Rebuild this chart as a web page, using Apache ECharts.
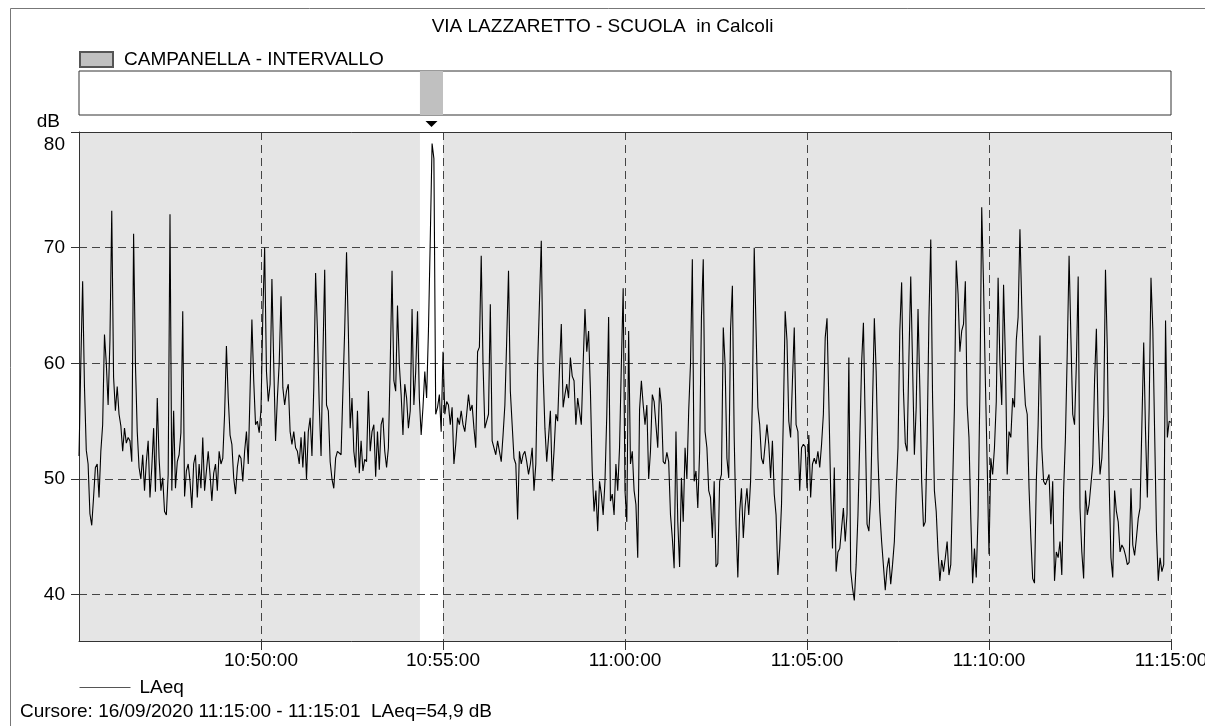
<!DOCTYPE html>
<html>
<head>
<meta charset="utf-8">
<script src="https://cdn.jsdelivr.net/npm/echarts@6/dist/echarts.min.js"></script>
<style>
html,body{margin:0;padding:0;background:#fff;}
#chart{width:1205px;height:726px;}
</style>
</head>
<body>
<div id="chart"></div>
<script>
// ---- texts ----
const chartTitle = 'VIA LAZZARETTO - SCUOLA  in Calcoli';
const cursorText = 'Cursore: 16/09/2020 11:15:00 - 11:15:01  LAeq=54,9 dB';
const seriesName = 'LAeq';
const bellName = 'CAMPANELLA - INTERVALLO';
const yUnit = 'dB';

// ---- time axis ----
const startTime = '10:45:00';
const endTime = '11:15:00';
const stepSeconds = 3;
const xTickSeconds = 300;
const yMin = 36;
const yMax = 80;
const yTicks = [40, 50, 60, 70, 80];

// ---- bell interval ----
const bellStart = '10:54:22';
const bellEnd = '10:55:00';

// ---- LAeq values (dB), one every 3 s, per 5-minute block ----
const laeq_1045 = [52,60,67.1,58,52.5,51.3,47,46,48.4,51,51.3,48.4,52.4,54.7,62.5,60,56.4,62,73.2,58.8,
55.9,58,55.6,54.6,52.4,54.4,53.1,53.6,53.3,51.5,71.2,60,54.1,51,50,52.1,49,51.5,53.3,48.4,
51,54.4,48.9,57,51.8,49,50.1,47.2,46.9,50.4,72.9,49,55.9,49.2,51.5,52.1,54,64.5,48.5,50.7,
51.3,49.8,47.5,51.3,52.1,48.4,51.3,49.2,53.6,49,49,52.4,50.4,48.1,50.5,51.3,49,52.4,51.3,51.8,
55.6,61.5,57,53.8,53,50.1,48.7,51,52.1,51.8,49.8,52.4,54.1,51.3,57.6,63.8,58.5,54.7,55,54];
const laeq_1050 = [56,64.2,70,59.3,56.7,58.2,67.3,59.9,53.3,57,60,65.8,57.9,56.4,57.6,58.2,54.1,53,54.1,52.7,
52.4,51.3,53.6,51,54.1,50,54.1,55.3,52,57.9,67.8,62.8,56.4,52,60.5,68.1,56.4,55.9,51.5,50,
49.2,51.8,52.4,52.4,52.1,57.6,63,69.6,62.8,54.4,57,52.4,51,55.9,50.5,53.3,50.7,51.7,51.5,57.6,
52.4,54.1,54.7,50.2,54.1,50.8,54.7,55.3,52.4,51,52.7,59.9,68,58.5,57.6,65,59.9,57.3,53.8,58.2,
57,54.4,55.9,64.7,56.4,59.3,64.5,57,53.8,56.2,59.3,57,62.8,70.7,79,77.7,55.6,56.2,57.3,54.1];
const laeq_1055 = [61,55.6,56.7,56.4,54.7,56.2,51.3,53,55.3,54.7,55.9,54.7,54.1,55.6,57.3,55.9,56.4,54.4,52.7,61,
61.4,69.3,59.9,54.4,55,55.6,65.1,53.3,53.4,52.1,53.3,52.4,51.5,53.8,56.4,62,68,57.6,54.7,51.8,
51.3,46.5,52.4,51.3,52.1,52.4,51.5,50.4,51.3,52.7,49,51.3,59.9,60,70.6,59.3,54.4,51.5,53.6,55.9,
49.8,52.4,55.6,55,59.5,63.4,56.2,57.3,58.2,57,60.5,58.9,58.5,54.7,57,57,54.7,59.9,64.7,61,
62.8,57.6,50.7,47.2,49,45.5,49.8,48.7,46.9,49.8,55.6,64,48.1,48.7,46.9,51.3,49,52.7,59.9,66.5];
const laeq_1100 = [49,46.3,62.8,51.3,52.4,49,47.8,43.2,56,58.5,56.4,54.7,56.4,50,52.4,57.3,56.7,54.7,52.7,57.9,
56.4,51.5,51.3,52.3,51.5,46.9,44.9,42.3,54.1,46.3,42.4,50.1,46.3,52.7,50,55.9,60,69,49.8,50.7,
47.5,52.4,64,69,54.1,52.7,49,48.4,44.9,49.8,42.4,42.7,49.8,50.4,63.1,59.9,51.8,50.1,63,66.7,
53.6,46.1,41.5,47.2,49.2,44.9,47.6,49.2,46.9,49.8,57,70,63,56.2,54.7,51.8,51.3,51.3,54.7,53,
50.1,53.3,48.7,46.9,41.7,44,47.8,55.3,64.5,62,55,53.6,58.5,63.1,54.7,54.1,49,52.7,53,52.8];
const laeq_1105 = [49.2,53.8,48.4,51.3,51.8,51.3,52.4,51,53,55.6,62.2,63.9,56.7,49,44,51,42,43.7,44,44,
47.5,44.6,47,60.5,42.1,40.6,39.5,42.6,46.9,53.3,60,63.5,54.7,46.1,45.5,48.4,56.4,63.9,59.3,51.8,
47.2,44.6,44.6,40.4,42.3,43.2,40.9,42.6,44.6,49,52.7,62.8,67,57.6,53.1,52.4,60.5,67.5,59.9,52.1,
56.2,64.7,57.9,49.8,45.9,46.3,53.3,63.9,70.7,57,49,47.2,43.7,41.2,43,42,43.2,44.6,41.7,42.6,
49.2,56.2,68.9,66,61,62.8,63.4,67.1,56.4,53.6,46.6,41,44,41.5,46.9,57.6,73.5,66.8,58.5,51.3];
const laeq_1110 = [43.5,51.8,50.4,52.7,56.7,67.4,60,56.4,66.8,60.5,50.4,54.1,53.6,57,56.2,62,64,71.6,65,59.3,
56.4,55.6,49.2,44.9,41.4,41,49.8,54.7,62.4,52.7,49.8,49.5,49.5,50.4,46.1,49.8,41.2,43.7,43.2,44.6,
41.7,49,53.6,61,69.3,62.2,55.6,54.7,59.9,67.5,47.5,43.7,41.4,49,46.9,47.8,47.8,51.3,58.5,63,
54.7,50.4,51.8,55.6,68.1,61.3,49.8,43.2,41.5,49,47.2,46.3,43.7,44.3,44,43.4,42.6,42.8,49.2,44.3,
43.4,44.9,46.6,47.5,54.7,61.8,54.1,48.4,56.2,67.4,63,54.1,45.5,41.2,43.2,42,42.6,63.7,53.6,55];
const laeq_1115 = [54.9];

// ---- helpers ----
function toSec(s) { const p = s.split(':').map(Number); return p[0]*3600 + p[1]*60 + p[2]; }
function fmt(sec) {
  const h = Math.floor(sec/3600), m = Math.floor((sec%3600)/60), s = Math.round(sec%60);
  const pad = n => (n < 10 ? '0' : '') + n;
  return pad(h) + ':' + pad(m) + ':' + pad(s);
}

const t0 = toSec(startTime), t1 = toSec(endTime);
const values = [].concat(laeq_1045, laeq_1050, laeq_1055, laeq_1100, laeq_1105, laeq_1110, laeq_1115);
const seriesData = values.map((v, i) => [t0 + i*stepSeconds, v]);
const bS = toSec(bellStart), bE = toSec(bellEnd);

const FONT = 'Liberation Sans, Arial, Helvetica, sans-serif';
const FS = 19;
const dashed = { color: '#444', width: 1, type: [8, 5] };
const clear = 'rgba(0,0,0,0)';

const chart = echarts.init(document.getElementById('chart'), null, { renderer: 'canvas' });
chart.setOption({
  animation: false,
  backgroundColor: '#fff',
  textStyle: { fontFamily: FONT },
  title: [
    { text: chartTitle, left: 'center', top: 17, padding: 0,
      textStyle: { fontFamily: FONT, fontSize: FS, fontWeight: 'normal', color: '#000' } },
    { text: cursorText, left: 20, top: 702, padding: 0,
      textStyle: { fontFamily: FONT, fontSize: FS, fontWeight: 'normal', color: '#000' } }
  ],
  legend: [
    { data: [bellName], left: 79, top: 50, padding: 0, icon: 'rect', itemWidth: 33, itemHeight: 15,
      textStyle: { fontFamily: FONT, fontSize: FS, color: '#000', padding: [0, 0, 0, 6] },
      selectedMode: false },
    { data: [seriesName], left: 79, top: 678, padding: 0, itemWidth: 51, itemHeight: 19,
      itemStyle: { color: clear, borderColor: clear, borderWidth: 0, opacity: 0 },
      lineStyle: { color: '#555', width: 1 },
      textStyle: { fontFamily: FONT, fontSize: FS, color: '#000', padding: [0, 0, 0, 4] },
      selectedMode: false }
  ],
  graphic: [
    { type: 'rect', shape: { x: 10.5, y: 8.5, width: 1400, height: 900 },
      style: { fill: 'none', stroke: '#777', lineWidth: 1 }, silent: true, z: 10 }
  ],
  grid: [
    { left: 79, right: 34, top: 132, height: 509, show: true, backgroundColor: '#e5e5e5',
      borderWidth: 0, outerBoundsMode: 'none', containLabel: false },
    { left: 79, right: 34, top: 71, height: 44, show: true, backgroundColor: '#fff',
      borderColor: '#333', borderWidth: 1, outerBoundsMode: 'none', containLabel: false }
  ],
  xAxis: [
    { type: 'value', gridIndex: 0, min: t0, max: t1, interval: xTickSeconds, z: 1.5,
      axisLine: { show: true, lineStyle: { color: '#333', width: 1 } },
      axisTick: { show: true, length: 9, lineStyle: { color: '#333' } },
      axisLabel: { show: true, showMinLabel: false, margin: 10, color: '#000', fontSize: FS, fontFamily: FONT,
        hideOverlap: false, formatter: v => fmt(v) },
      splitLine: { show: true, lineStyle: dashed } },
    { type: 'value', gridIndex: 0, position: 'top', min: t0, max: t1, z: 1.5,
      axisLine: { show: true, onZero: false, lineStyle: { color: '#333', width: 1 } },
      axisTick: { show: false }, axisLabel: { show: false }, splitLine: { show: false } },
    { type: 'value', gridIndex: 1, min: t0, max: t1, show: false }
  ],
  yAxis: [
    { type: 'value', gridIndex: 0, min: yMin, max: yMax, splitNumber: 5, z: 1.5,
      name: yUnit, nameLocation: 'end', nameGap: 10,
      nameTextStyle: { fontFamily: FONT, fontSize: FS, color: '#000', align: 'right', verticalAlign: 'middle',
        padding: [0, 19, 0, 0] },
      axisLine: { show: true, lineStyle: { color: '#333', width: 1 } },
      axisTick: { show: true, length: 8, customValues: yTicks, lineStyle: { color: '#333' } },
      axisLabel: { show: true, showMinLabel: false, margin: 14, color: '#000', fontSize: FS, fontFamily: FONT,
        verticalAlignMaxLabel: 'top', padding: [3, 0, 0, 0],
        formatter: v => (yTicks.indexOf(v) >= 0 ? String(v) : '') },
      splitLine: { show: true, lineStyle: dashed } },
    { type: 'value', gridIndex: 1, min: 0, max: 1, show: false }
  ],
  series: [
    { name: seriesName, type: 'line', xAxisIndex: 0, yAxisIndex: 0, data: seriesData,
      symbol: 'none', z: 2, clip: true,
      lineStyle: { color: '#000', width: 1.1 }, itemStyle: { color: '#000' },
      markArea: { silent: true, z: 1, itemStyle: { color: '#fff' },
        data: [[{ xAxis: bS }, { xAxis: bE }]] } },
    { name: bellName, type: 'bar', xAxisIndex: 2, yAxisIndex: 1, data: [],
      itemStyle: { color: '#c0c0c0', borderColor: '#555', borderWidth: 1 },
      markArea: { silent: true, itemStyle: { color: '#c0c0c0' },
        data: [[{ xAxis: bS }, { xAxis: bE }]] },
      markPoint: { silent: true, symbol: 'triangle', symbolSize: [12, 6], symbolRotate: 180,
        symbolOffset: [0, 9], itemStyle: { color: '#000' }, label: { show: false },
        data: [{ coord: [(bS + bE) / 2, 0] }] } }
  ]
});
</script>
</body>
</html>
